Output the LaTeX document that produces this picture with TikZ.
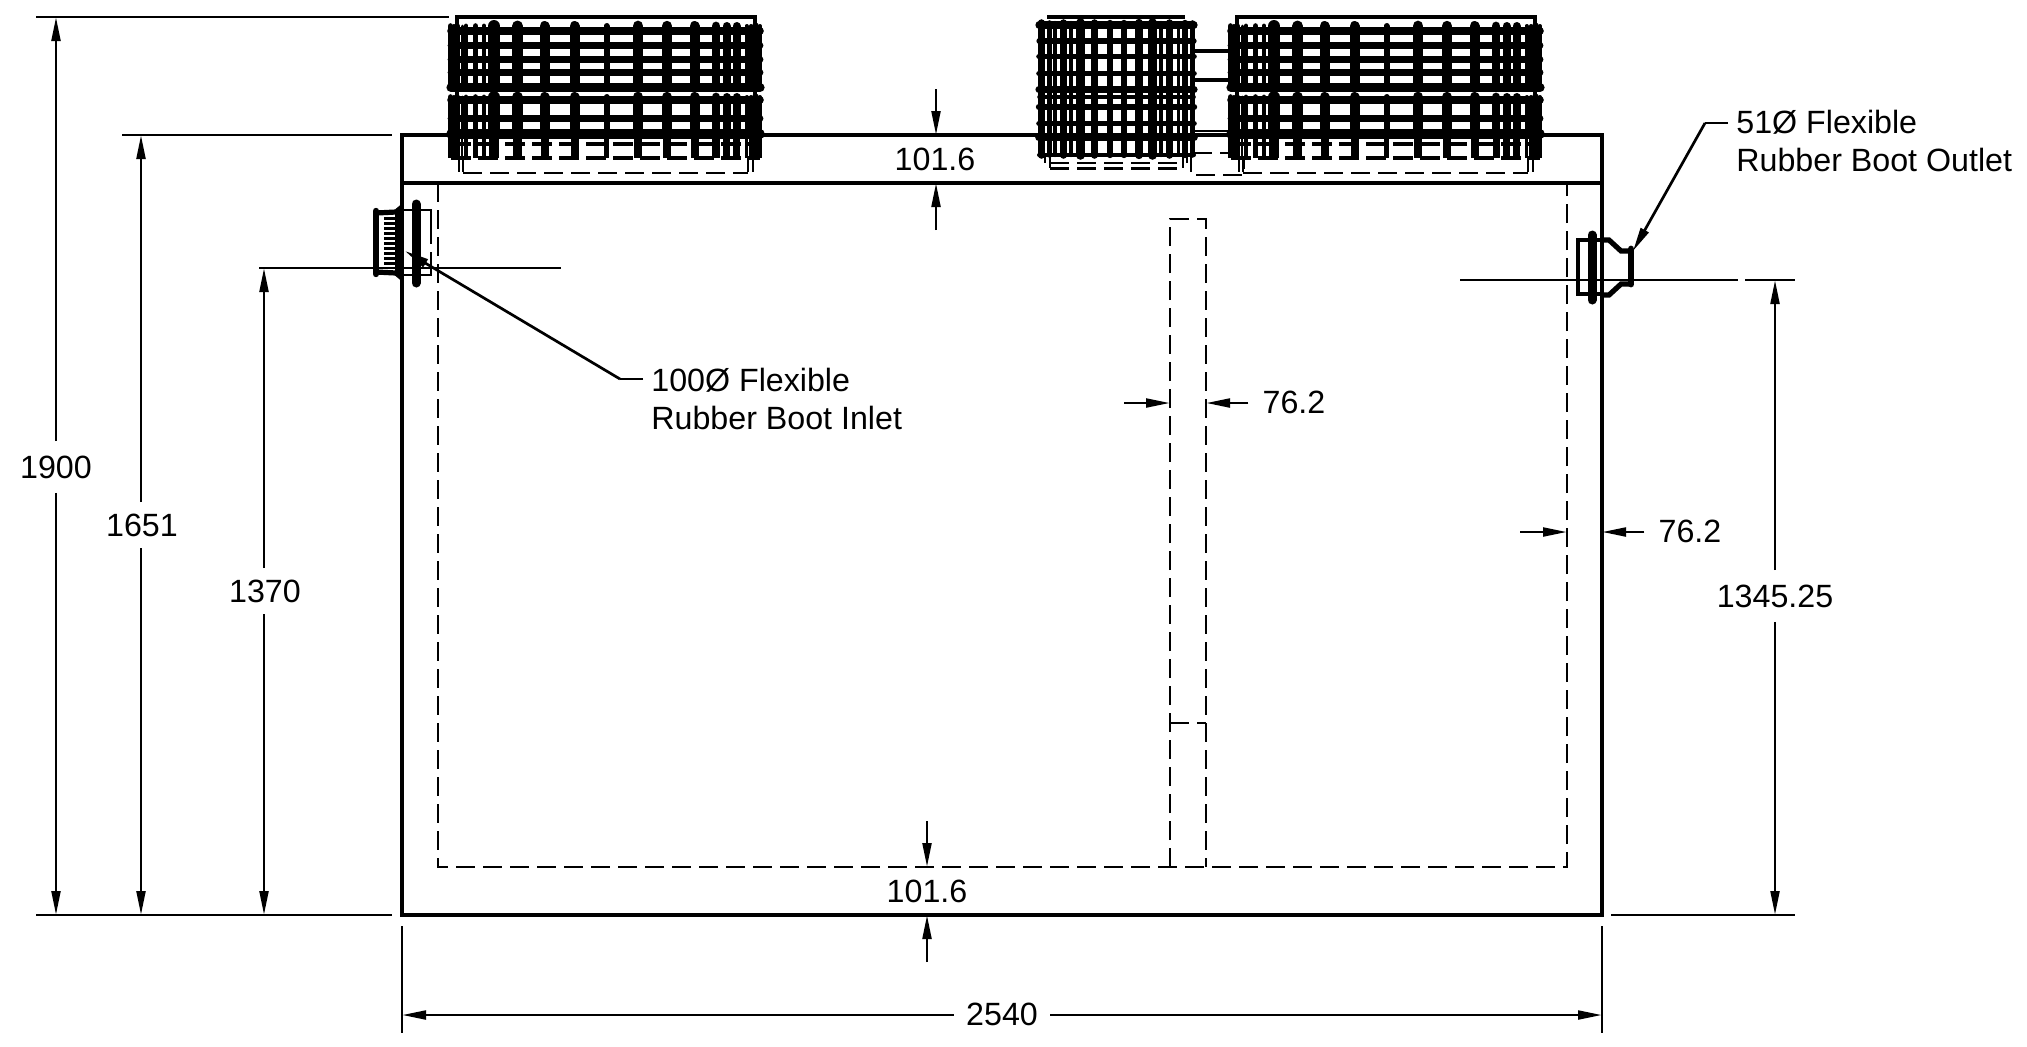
\documentclass[tikz,border=0pt]{standalone}
\usepackage{fontspec}
\setmainfont{Liberation Sans}
\usetikzlibrary{arrows.meta}
\tikzset{
  outline/.style={line width=2.4pt},
  thin solid/.style={line width=1.3pt},
  hid/.style={line width=1.35pt,dash pattern=on 9.7pt off 3.8pt},
  dimline/.style={line width=1.35pt,-{Triangle[length=12pt,width=4.4pt]}},
  extline/.style={line width=1.35pt},
  lbl/.style={inner xsep=6pt,inner ysep=7pt,font=\fontsize{16.1}{16}\selectfont},
  note/.style={anchor=west,inner sep=0pt,font=\fontsize{16.1}{16}\selectfont},
  bar/.style={line width=#1,line cap=round},
  bar/.default=2pt
}
\newcommand{\cagebasket}[1]{%
  \begin{scope}[shift={(#1,0)}]
    % frame
    \draw[line width=2.2pt] (7,96) -- (7,16) -- (305,16) -- (305,96);
    % hidden base
    \draw[thin solid] (9,157) -- (9,171) (13,157) -- (13,171) (298,157) -- (298,171) (303,157) -- (303,171);
    \draw[hid] (13,172) -- (298,172);
    % uprights
    \foreach \xx/\ww in {0.5/2.8,4/2,8/2.2,12/1.5,16/2.4,25.5/2.8,34/2.4,44/6,67.5/5.5,94.5/5,124.5/5,156.5/3,188/5.4,217/5.2,244.5/5,266/4.4,276.5/4,286.5/4,296.5/2,301/2,305.5/3.5,310/2}{
      \draw[bar=\ww pt] (\xx,25) -- (\xx,86);
      \draw[bar=\ww pt] (\xx,96) -- (\xx,133);
      \draw[line width={0.8*\ww pt}] (\xx,133) -- (\xx,157);
    }
    % upper rings
    \foreach \yy/\ww in {30/3.8pt,44.5/3.4pt,58.5/3.4pt,71.5/3.4pt,86.5/4.6pt}
      \draw[bar=\ww] (1,\yy) -- (310,\yy);
    % lower rings
    \foreach \yy/\ww in {99/3.8pt,117.5/3.4pt,133/4.8pt}
      \draw[bar=\ww] (1,\yy) -- (310,\yy);
    \draw[line width=2.1pt,dash pattern=on 10pt off 3.5pt] (1,143) -- (310,143);
    \draw[line width=2.3pt,dash pattern=on 10pt off 3.5pt] (1,157) -- (310,157);
  \end{scope}
}
\begin{document}
\begin{tikzpicture}[x=0.5pt,y=-0.5pt]
\useasboundingbox (0,-1) rectangle (2027,1045);
% corners and levels
\coordinate (tl) at (402,134);
\coordinate (tr) at (1602,134);
\coordinate (bl) at (402,914);
\coordinate (br) at (1602,914);

% baskets
\cagebasket{450}
\cagebasket{1230}

% central basket
\draw[line width=2pt] (1047,16) -- (1185,16);
\foreach \yy/\ww in {24/3.6pt,40/2.6pt,55.5/2.8pt,72.5/2.8pt,88.5/3.6pt,96/1.8pt,106/3.2pt,122.5/2.8pt,136.5/3.8pt,154/2pt}
  \draw[bar=\ww] (1039,\yy) -- (1194,\yy);
\foreach \xx/\ww in {1041.5/3.8,1049.5/2.8,1055/2.2,1063.5/3.8,1071/2.2,1080.5/4.8,1094.5/3.8,1110/3.2,1124/3.2,1139/4.2,1152.5/4.8,1161/2.2,1169.5/3.8,1178.5/1.8,1185/3.2,1192.5/2.8}
  \draw[bar=\ww pt] (\xx,22) -- (\xx,154);
\draw[thin solid] (1045,154) -- (1045,162) (1050,154) -- (1050,167) (1187,154) -- (1187,162) (1183,154) -- (1183,167);
\draw[hid] (1050,162) -- (1183,162);
\draw[hid] (1050,167.5) -- (1183,167.5);

% links between central and right basket
\draw[line width=2pt] (1194,50) -- (1232,50);
\draw[line width=2pt] (1194,79) -- (1232,79);
\draw[line width=1.4pt] (1194,130) -- (1232,130);
\draw[hid] (1193,152) -- (1236,152);
\draw[hid] (1191,152) -- (1191,174) -- (1244,174) -- (1244,155);

% tank
\draw[outline] (tl) rectangle (br);
\draw[outline] (402,182) -- (1602,182);

% hidden inner walls
\draw[hid] (438,182) -- (438,866) -- (1567,866) -- (1567,182);
\draw[hid] (1170,866) -- (1170,218) -- (1206,218) -- (1206,866);
\draw[hid] (1170,722) -- (1206,722);

% inlet boot
\draw[line width=3.2pt,line cap=round] (376,210) -- (376,273);
\draw[line width=2.6pt] (376,212) -- (396,211) -- (402,206);
\draw[line width=2.6pt] (376,271) -- (396,272) -- (402,277);
\foreach \yy in {217,222,...,266}
  \draw[line width=1.5pt] (384,\yy) -- (396,\yy);
\draw[line width=3pt] (398,210) -- (398,273);
\draw[line width=4.5pt,line cap=round] (416,203) -- (416,282);
\draw[line width=1.4pt] (402,209) -- (431,209) -- (431,224);
\draw[line width=1.4pt] (402,274) -- (431,274) -- (431,260);
\draw[hid] (431,224) -- (431,260);

% outlet boot
\draw[line width=1.6pt] (1602,239) -- (1578,239) -- (1578,293) -- (1602,293);
\draw[line width=4.5pt,line cap=round] (1592,234) -- (1592,299);
\draw[line width=2.6pt] (1602,239) -- (1609,239) -- (1621,250) -- (1631,250);
\draw[line width=2.6pt] (1602,294) -- (1609,294) -- (1621,283) -- (1631,283);
\draw[line width=3.4pt,line cap=round] (1631,248) -- (1631,283);

% centre lines
\draw[extline] (259,267) -- (561,267);
\draw[extline] (1460,279) -- (1738,279);

% extension lines
\draw[extline] (36,16) -- (449,16);
\draw[extline] (36,914) -- (392,914);
\draw[extline] (122,134) -- (392,134);
\draw[extline] (1745,279) -- (1795,279);
\draw[extline] (1611,914) -- (1795,914);
\draw[extline] (402,925) -- (402,1032);
\draw[extline] (1602,925) -- (1602,1032);

% overall dimensions
\node[lbl] (d1900) at (56,466) {1900};
\draw[dimline] (d1900) -- (56,16);
\draw[dimline] (d1900) -- (56,914);
\node[lbl] (d1651) at (142,524) {1651};
\draw[dimline] (141,501) -- (141,134);
\draw[dimline] (141,547) -- (141,914);
\node[lbl] (d1370) at (265,590) {1370};
\draw[dimline] (264,567) -- (264,267);
\draw[dimline] (264,613) -- (264,914);
\node[lbl] (d1345) at (1775,595) {1345.25};
\draw[dimline] (d1345) -- (1775,279);
\draw[dimline] (d1345) -- (1775,914);
\node[lbl] (d2540) at (1002,1013) {2540};
\draw[dimline] (d2540.west |- 402,1014) -- (402,1014);
\draw[dimline] (d2540.east |- 1602,1014) -- (1602,1014);

% wall thicknesses
\node[lbl,inner sep=0pt] (dtop) at (935,158) {101.6};
\coordinate (dtopA) at (936,88);
\coordinate (dtopB) at (936,229);
\draw[dimline] (dtopA) -- (936,134);
\draw[dimline] (dtopB) -- (936,182);
\node[lbl,inner sep=0pt] (dbot) at (927,890) {101.6};
\coordinate (dbotA) at (927,820);
\coordinate (dbotB) at (927,961);
\draw[dimline] (dbotA) -- (927,866);
\draw[dimline] (dbotB) -- (927,914);
\node[lbl,inner xsep=7pt,inner ysep=0pt] (dmid) at (1294,401) {76.2};
\coordinate (dmidA) at (1124,402);
\draw[dimline] (dmidA) -- (1170,402);
\draw[dimline] (dmid.west |- 1206,402) -- (1206,402);
\node[lbl,inner xsep=7pt,inner ysep=0pt] (drgt) at (1690,530) {76.2};
\coordinate (drgtA) at (1520,531);
\draw[dimline] (drgtA) -- (1567,531);
\draw[dimline] (drgt.west |- 1602,531) -- (1602,531);

% notes
\node[note] (inA) at (651,379) {100Ø Flexible};
\node[note] (inB) at (651,417) {Rubber Boot Inlet};
\coordinate (inK) at (620,378);
\draw[extline] (643,378) -- (inK);
\draw[dimline] (inK) -- (405,250);
\node[note] (outA) at (1736,121) {51Ø Flexible};
\node[note] (outB) at (1736,159) {Rubber Boot Outlet};
\coordinate (outK) at (1705,122);
\draw[extline] (1728,122) -- (outK);
\draw[dimline] (outK) -- (1633,250);
\end{tikzpicture}
\end{document}
